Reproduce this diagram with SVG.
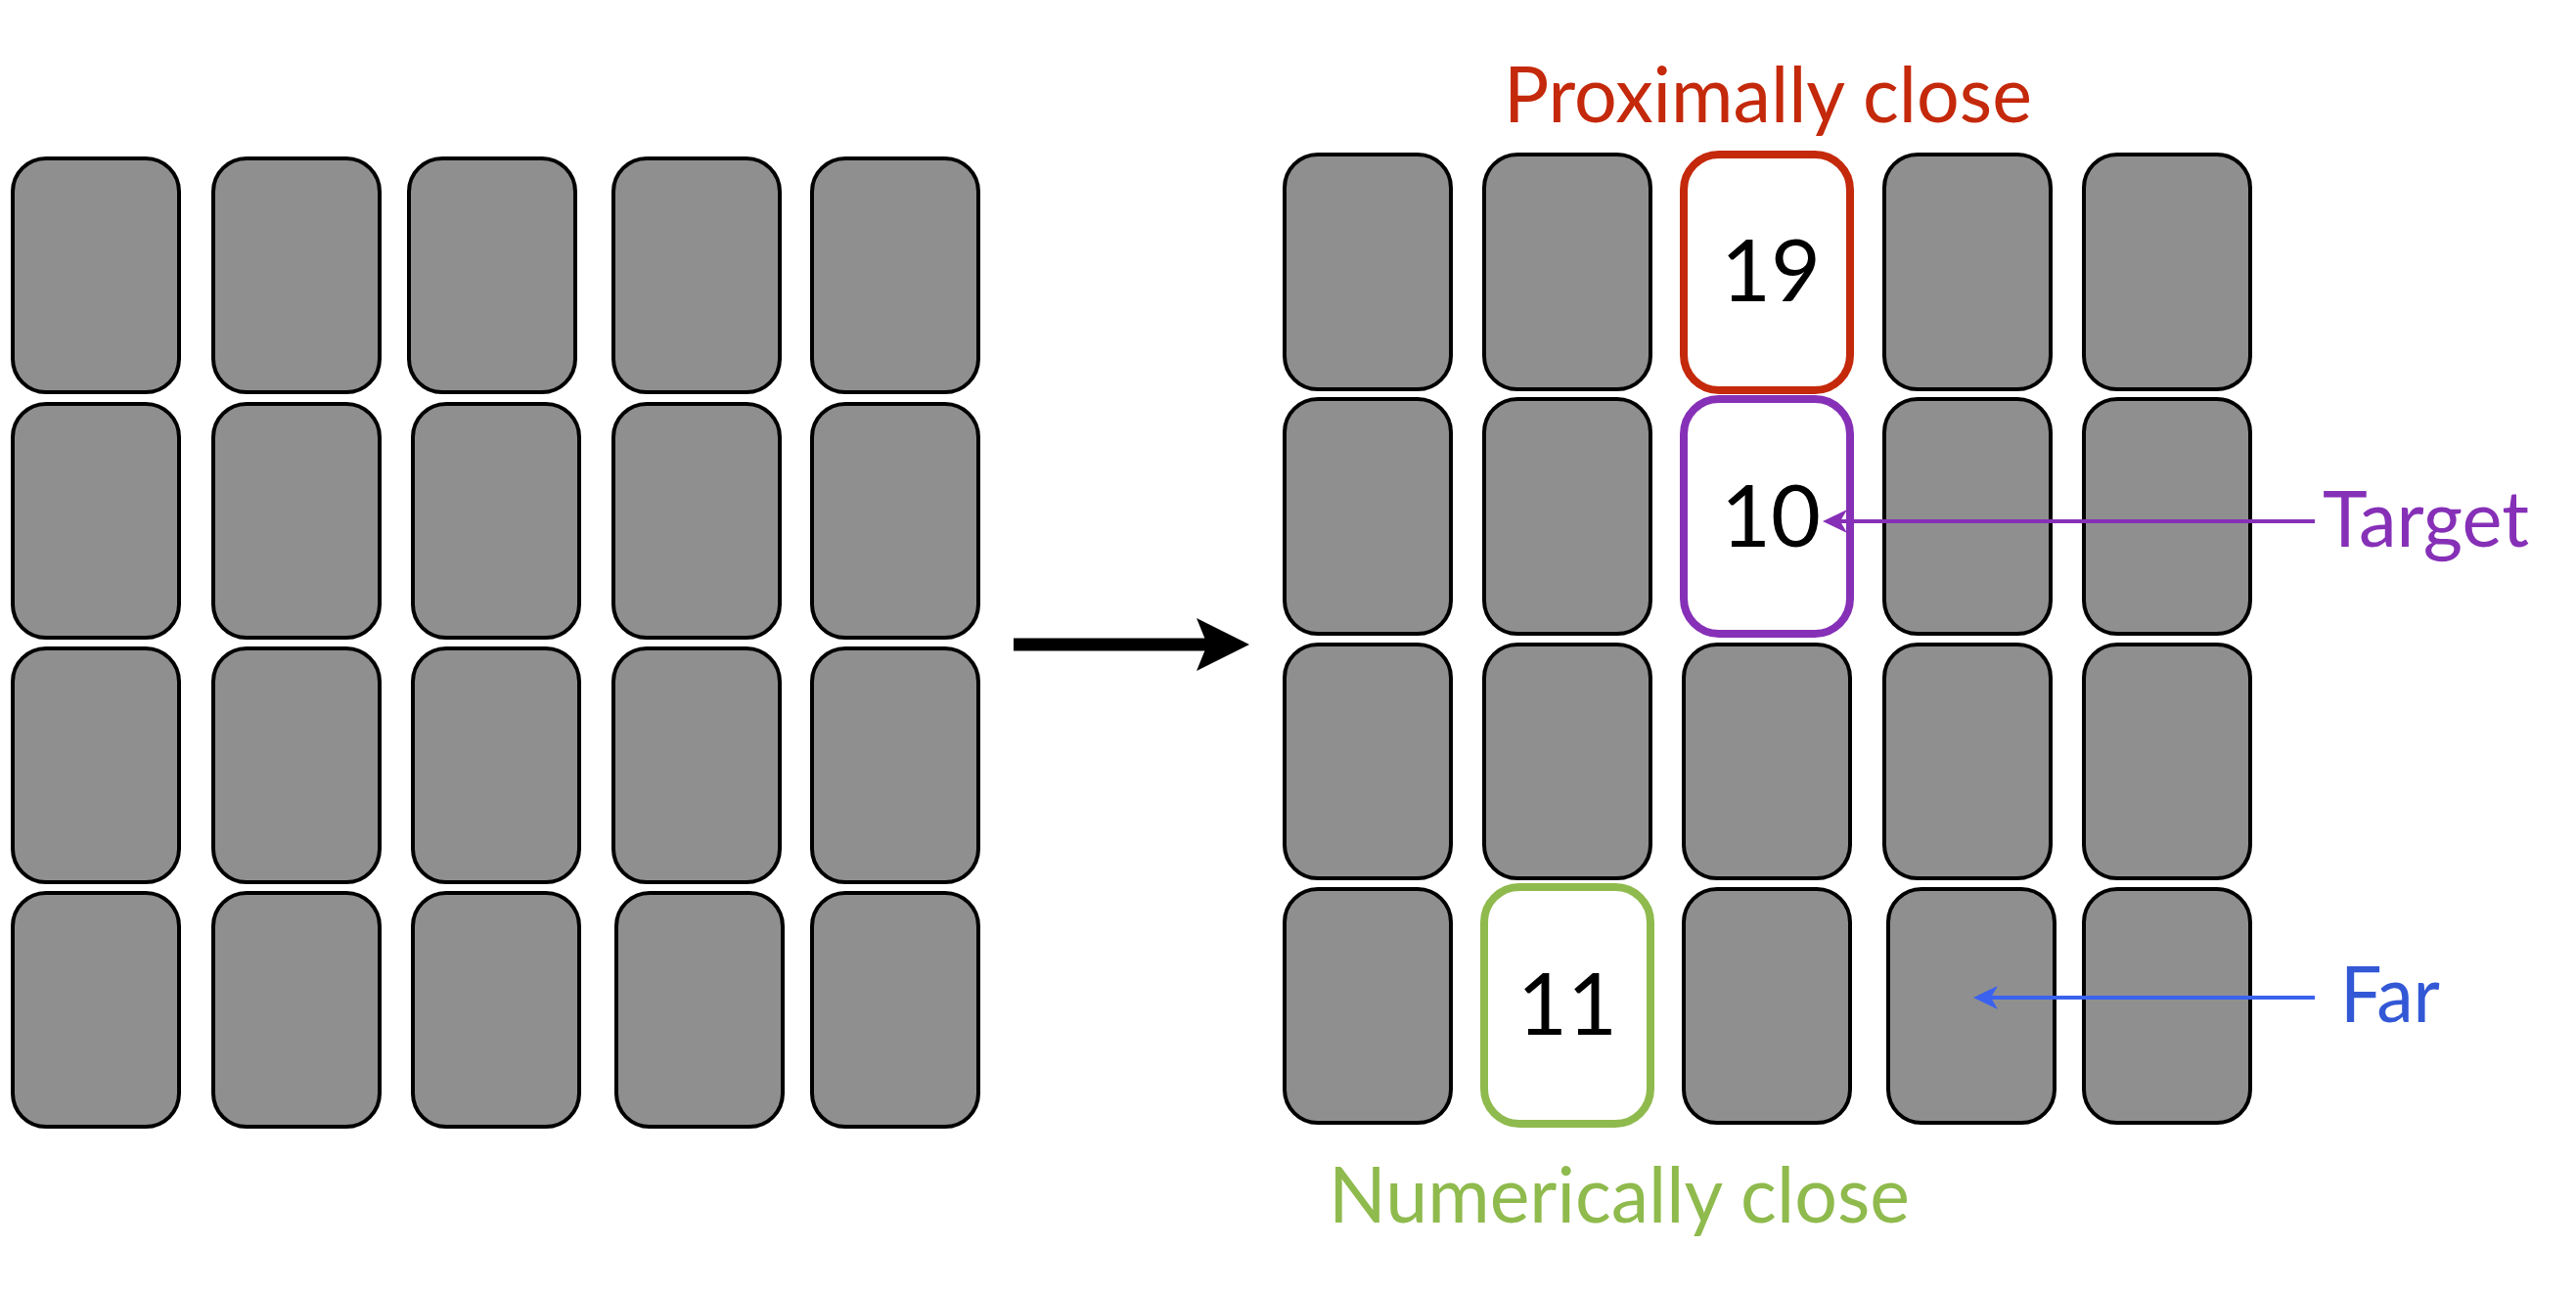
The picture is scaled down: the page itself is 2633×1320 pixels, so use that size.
<svg xmlns="http://www.w3.org/2000/svg" width="2633" height="1320" viewBox="0 0 2633 1320">
<style>
.card{fill:#8f8f8f;stroke:#000;stroke-width:4}
.hl{fill:#fff;stroke-width:8}
.red{stroke:#c4290b}
.purple{stroke:#8630b7}
.green{stroke:#8fba4d}
.num{font-family:Lato,"Open Sans","Liberation Sans",sans-serif;font-size:88px;fill:#000;text-anchor:middle}
.lbl{font-family:Lato,"Open Sans","Liberation Sans",sans-serif;font-size:80px}
</style>
<defs>
<marker id="bigHead" viewBox="0 0 54 54" markerUnits="userSpaceOnUse" markerWidth="54" markerHeight="54" refX="17" refY="27" orient="auto">
<path d="M54,27 L0,0 L11,27 L0,54 Z" fill="#000"/>
</marker>
<marker id="headPurple" viewBox="0 0 25 24" markerUnits="userSpaceOnUse" markerWidth="25" markerHeight="24" refX="10" refY="12" orient="auto">
<path d="M25,12 L0,0 L7,12 L0,24 Z" fill="#8630b7"/>
</marker>
<marker id="headBlue" viewBox="0 0 25 24" markerUnits="userSpaceOnUse" markerWidth="25" markerHeight="24" refX="10" refY="12" orient="auto">
<path d="M25,12 L0,0 L7,12 L0,24 Z" fill="#3b62ee"/>
</marker>
</defs>
<rect width="2633" height="1320" fill="#fff"/>

<!-- Left grid -->
<g id="left-grid">
<g id="L-r1c1"><rect class="card" x="13" y="162" width="170" height="239" rx="34"/></g>
<g id="L-r1c2"><rect class="card" x="218" y="162" width="170" height="239" rx="34"/></g>
<g id="L-r1c3"><rect class="card" x="418" y="162" width="170" height="239" rx="34"/></g>
<g id="L-r1c4"><rect class="card" x="627" y="162" width="170" height="239" rx="34"/></g>
<g id="L-r1c5"><rect class="card" x="830" y="162" width="170" height="239" rx="34"/></g>
<g id="L-r2c1"><rect class="card" x="13" y="413" width="170" height="239" rx="34"/></g>
<g id="L-r2c2"><rect class="card" x="218" y="413" width="170" height="239" rx="34"/></g>
<g id="L-r2c3"><rect class="card" x="422" y="413" width="170" height="239" rx="34"/></g>
<g id="L-r2c4"><rect class="card" x="627" y="413" width="170" height="239" rx="34"/></g>
<g id="L-r2c5"><rect class="card" x="830" y="413" width="170" height="239" rx="34"/></g>
<g id="L-r3c1"><rect class="card" x="13" y="663" width="170" height="239" rx="34"/></g>
<g id="L-r3c2"><rect class="card" x="218" y="663" width="170" height="239" rx="34"/></g>
<g id="L-r3c3"><rect class="card" x="422" y="663" width="170" height="239" rx="34"/></g>
<g id="L-r3c4"><rect class="card" x="627" y="663" width="170" height="239" rx="34"/></g>
<g id="L-r3c5"><rect class="card" x="830" y="663" width="170" height="239" rx="34"/></g>
<g id="L-r4c1"><rect class="card" x="13" y="913" width="170" height="239" rx="34"/></g>
<g id="L-r4c2"><rect class="card" x="218" y="913" width="170" height="239" rx="34"/></g>
<g id="L-r4c3"><rect class="card" x="422" y="913" width="170" height="239" rx="34"/></g>
<g id="L-r4c4"><rect class="card" x="630" y="913" width="170" height="239" rx="34"/></g>
<g id="L-r4c5"><rect class="card" x="830" y="913" width="170" height="239" rx="34"/></g>
</g>

<!-- Right grid -->
<g id="right-grid">
<g id="R-r1c1"><rect class="card" x="1313" y="158" width="170" height="240" rx="34"/></g>
<g id="R-r1c2"><rect class="card" x="1517" y="158" width="170" height="240" rx="34"/></g>
<g id="R-r1c3"><rect class="card hl red" x="1721" y="158" width="170" height="241" rx="36"/><text class="num" x="1810" y="308">19</text></g>
<g id="R-r1c4"><rect class="card" x="1926" y="158" width="170" height="240" rx="34"/></g>
<g id="R-r1c5"><rect class="card" x="2130" y="158" width="170" height="240" rx="34"/></g>
<g id="R-r2c1"><rect class="card" x="1313" y="408" width="170" height="240" rx="34"/></g>
<g id="R-r2c2"><rect class="card" x="1517" y="408" width="170" height="240" rx="34"/></g>
<g id="R-r2c3"><rect class="card hl purple" x="1721" y="408" width="170" height="240" rx="36"/><text class="num" x="1810" y="559">10</text></g>
<g id="R-r2c4"><rect class="card" x="1926" y="408" width="170" height="240" rx="34"/></g>
<g id="R-r2c5"><rect class="card" x="2130" y="408" width="170" height="240" rx="34"/></g>
<g id="R-r3c1"><rect class="card" x="1313" y="659" width="170" height="239" rx="34"/></g>
<g id="R-r3c2"><rect class="card" x="1517" y="659" width="170" height="239" rx="34"/></g>
<g id="R-r3c3"><rect class="card" x="1721" y="659" width="170" height="239" rx="34"/></g>
<g id="R-r3c4"><rect class="card" x="1926" y="659" width="170" height="239" rx="34"/></g>
<g id="R-r3c5"><rect class="card" x="2130" y="659" width="170" height="239" rx="34"/></g>
<g id="R-r4c1"><rect class="card" x="1313" y="909" width="170" height="239" rx="34"/></g>
<g id="R-r4c2"><rect class="card hl green" x="1517" y="907" width="170" height="242" rx="36"/><text class="num" x="1602" y="1058">11</text></g>
<g id="R-r4c3"><rect class="card" x="1721" y="909" width="170" height="239" rx="34"/></g>
<g id="R-r4c4"><rect class="card" x="1930" y="909" width="170" height="239" rx="34"/></g>
<g id="R-r4c5"><rect class="card" x="2130" y="909" width="170" height="239" rx="34"/></g>
</g>

<!-- Labels -->
<g id="label-proximal"><text class="lbl" x="1537" y="125" fill="#c4290b" textLength="540" lengthAdjust="spacingAndGlyphs">Proximally close</text></g>
<g id="label-target"><text class="lbl" x="2374" y="559" fill="#8630b7" textLength="211" lengthAdjust="spacingAndGlyphs">Target</text></g>
<g id="label-far"><text class="lbl" x="2392" y="1045" fill="#3358d6" textLength="102" lengthAdjust="spacingAndGlyphs">Far</text></g>
<g id="label-numeric"><text class="lbl" x="1358" y="1250" fill="#8fba4d" textLength="594" lengthAdjust="spacingAndGlyphs">Numerically close</text></g>

<!-- Connectors -->
<g id="connectors" fill="none">
<line x1="1036" y1="659" x2="1240" y2="659" stroke="#000" stroke-width="13" marker-end="url(#bigHead)"/>
<line x1="2366" y1="533" x2="1878" y2="533" stroke="#8630b7" stroke-width="4" marker-end="url(#headPurple)"/>
<line x1="2366" y1="1020" x2="2032" y2="1020" stroke="#3b62ee" stroke-width="4" marker-end="url(#headBlue)"/>
</g>
</svg>
